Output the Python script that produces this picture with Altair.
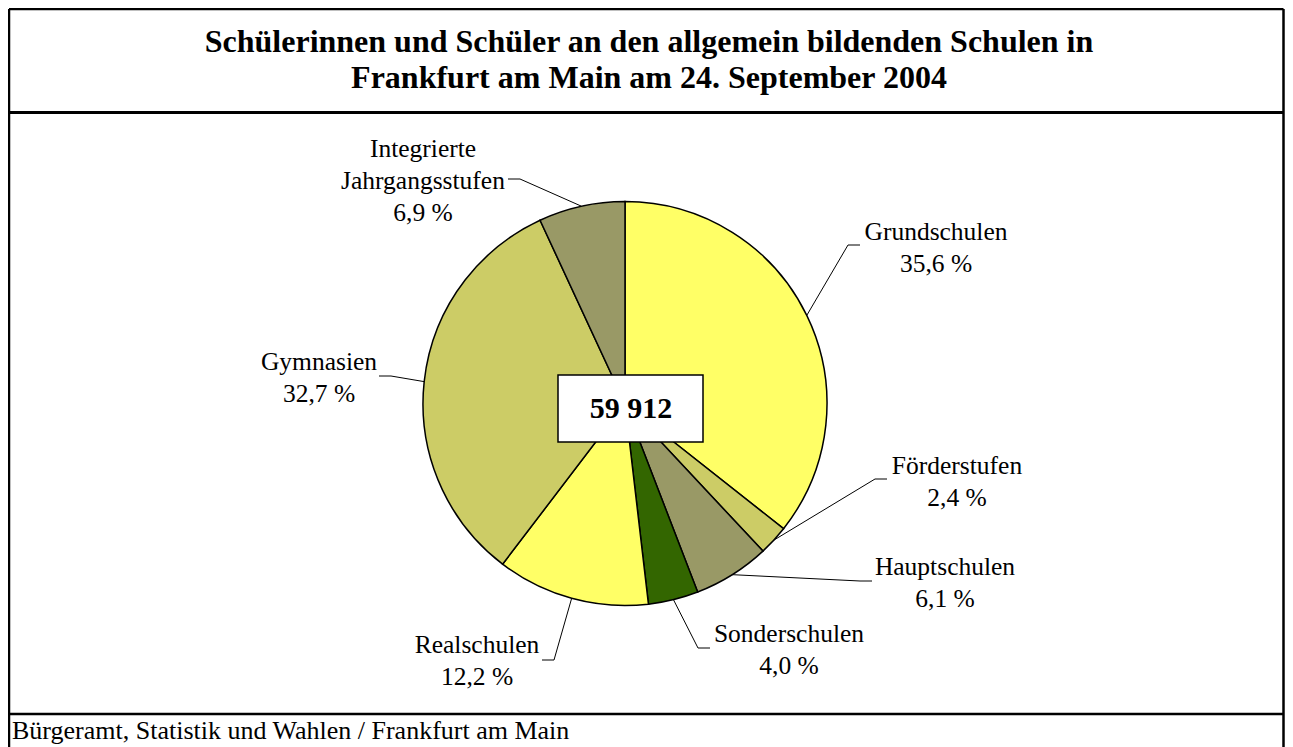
import math
import altair as alt
import pandas as pd

# ---------------- data ----------------
CATEGORIES = ["Grundschulen", "Förderstufen", "Hauptschulen", "Sonderschulen",
              "Realschulen", "Gymnasien", "Integrierte Jahrgangsstufen"]
SHARES = [35.6, 2.4, 6.1, 4.0, 12.2, 32.7, 6.9]
COLORS = ["#FFFF66", "#CCCC66", "#999966", "#336600", "#FFFF66", "#CCCC66", "#999966"]
LABEL_NAMES = [["Grundschulen"], ["Förderstufen"], ["Hauptschulen"], ["Sonderschulen"],
               ["Realschulen"], ["Gymnasien"], ["Integrierte", "Jahrgangsstufen"]]
TOTAL_PUPILS = 59912
TITLE_LINES = ["Schülerinnen und Schüler an den allgemein bildenden Schulen in",
               "Frankfurt am Main am 24. September 2004"]
SOURCE = "Bürgeramt, Statistik und Wahlen / Frankfurt am Main"

# ---------------- layout (page pixels) ----------------
OFF = 8
W, H = 1277, 739
CX, CY, R = 625, 403.5, 202
LABEL_CENTER = [(936, 247.5), (957, 482), (945, 582.5), (789, 650),
                (477, 661), (319, 377.5), (423, 181)]
HOOK = [(860, 245), (887, 479), (872, 581), (710, 648), (542, 660), (379, 376), (508, 179)]
HOOK_DIR = [-1, -1, -1, -1, 1, 1, 1]
LINE_H = 32
FONT = "Liberation Serif"
RIGHT = OFF + W - 1.5


def p(v):
    return v - OFF


# ---------------- pie ----------------
pie_df = pd.DataFrame({"category": CATEGORIES, "share": SHARES, "idx": list(range(len(SHARES)))})
pie = alt.Chart(pie_df).mark_arc(stroke="black", strokeWidth=1.5, radius=R).encode(
    theta=alt.Theta("share:Q", stack=True),
    order=alt.Order("idx:Q"),
    color=alt.Color("category:N", scale=alt.Scale(domain=CATEGORIES, range=COLORS), legend=None),
    x=alt.value(p(CX)),
    y=alt.value(p(CY)),
)

# ---------------- labels ----------------
def pct(v):
    return f"{v:.1f}".replace(".", ",") + " %"

rows = []
for i, names in enumerate(LABEL_NAMES):
    lines = names + [pct(SHARES[i])]
    n = len(lines)
    lx, ly = LABEL_CENTER[i]
    for j, t in enumerate(lines):
        rows.append({"t": t, "x": p(lx), "y": p(ly + (j - (n - 1) / 2) * LINE_H)})
lab_df = pd.DataFrame(rows)
labels = alt.Chart(lab_df).mark_text(font=FONT, fontSize=25.5, color="black",
                                     baseline="middle", align="center").encode(
    x=alt.X("x:Q", scale=None, axis=None),
    y=alt.Y("y:Q", scale=None, axis=None),
    text="t:N",
)

# ---------------- leader lines ----------------
total = sum(SHARES)
lrows = []
cum = 0.0
for i, s in enumerate(SHARES):
    mid = (cum + s / 2) / total * 2 * math.pi
    cum += s
    ex = CX + R * math.sin(mid)
    ey = CY - R * math.cos(mid)
    hx, hy = HOOK[i]
    pts = [(ex, ey), (hx + 12 * HOOK_DIR[i], hy), (hx, hy)]
    for k, (a, b) in enumerate(pts):
        lrows.append({"cat": CATEGORIES[i], "k": k, "x": p(a), "y": p(b)})
lead_df = pd.DataFrame(lrows)
leaders = alt.Chart(lead_df).mark_line(color="black", strokeWidth=1).encode(
    x=alt.X("x:Q", scale=None, axis=None),
    y=alt.Y("y:Q", scale=None, axis=None),
    detail="cat:N",
    order="k:Q",
)

# ---------------- total box ----------------
box = alt.Chart(pd.DataFrame({"a": [0]})).mark_rect(fill="white", stroke="black", strokeWidth=1.5).encode(
    x=alt.value(p(558)), x2=alt.value(p(703)), y=alt.value(p(375)), y2=alt.value(p(442)),
)
total_txt = alt.Chart(pd.DataFrame({"t": [f"{TOTAL_PUPILS:,}".replace(",", " ")]})).mark_text(
    font=FONT, fontSize=30, fontWeight="bold", baseline="middle", align="center", color="black"
).encode(x=alt.value(p(631)), y=alt.value(p(409)), text="t:N")

# ---------------- title & source ----------------
title_df = pd.DataFrame({"t": TITLE_LINES, "y": [p(52), p(88)]})
title = alt.Chart(title_df).mark_text(font=FONT, fontSize=32, fontWeight="bold",
                                      baseline="alphabetic", align="center", color="black").encode(
    x=alt.value(p(649)), y=alt.Y("y:Q", scale=None, axis=None), text="t:N")

source = alt.Chart(pd.DataFrame({"t": [SOURCE]})).mark_text(
    font=FONT, fontSize=26, baseline="middle", align="left", color="black"
).encode(x=alt.value(p(12)), y=alt.value(p(731)), text="t:N")

# ---------------- frame ----------------
frame_df = pd.DataFrame({
    "x": [p(9), p(9), p(RIGHT), p(9), p(9)],
    "x2": [p(RIGHT), p(9), p(RIGHT), p(RIGHT), p(RIGHT)],
    "y": [p(9), p(9), p(9), p(112.5), p(714)],
    "y2": [p(9), p(760), p(760), p(112.5), p(714)],
    "w": [2.5, 2.5, 2.5, 3, 2.5],
})
frame = alt.Chart(frame_df).mark_rule(color="black").encode(
    x=alt.X("x:Q", scale=None, axis=None), x2="x2:Q",
    y=alt.Y("y:Q", scale=None, axis=None), y2="y2:Q",
    strokeWidth=alt.StrokeWidth("w:Q", scale=None, legend=None),
)

chart = alt.layer(frame, pie, leaders, box, total_txt, labels, title, source).properties(
    width=W, height=H, padding=0, autosize=alt.AutoSizeParams(type="none"),
    background="white",
).configure_view(stroke=None)

chart.save("out.html", embed_options={"renderer": "svg", "actions": False})
